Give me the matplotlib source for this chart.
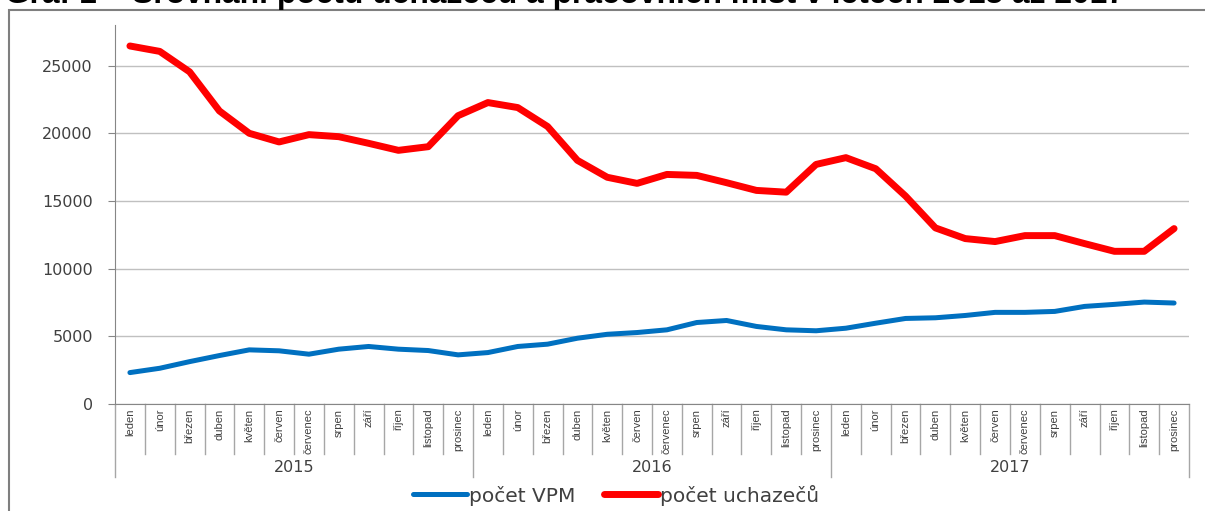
import matplotlib.pyplot as plt
from matplotlib.patches import Rectangle

months = ['leden', 'únor', 'březen', 'duben', 'květen', 'červen', 'červenec',
          'srpen', 'září', 'říjen', 'listopad', 'prosinec']
years = ['2015', '2016', '2017']

vpm = [2320, 2640, 3130, 3580, 4000, 3930, 3680, 4050, 4250, 4050, 3950, 3630,
       3800, 4250, 4420, 4860, 5150, 5280, 5480, 6020, 6170, 5730, 5480, 5410,
       5600, 5970, 6320, 6370, 6540, 6770, 6770, 6840, 7210, 7360, 7530, 7460]
uchazeci = [26450, 26050, 24540, 21650, 20000, 19360, 19900, 19750, 19260, 18740, 19010, 21300,
            22270, 21900, 20500, 18000, 16750, 16300, 16960, 16890, 16350, 15780, 15650, 17700,
            18200, 17380, 15360, 13010, 12220, 12000, 12440, 12440, 11850, 11280, 11280, 12960]

labels = months * len(years)
x = list(range(len(labels)))

fig = plt.figure(figsize=(12.05, 5.11), dpi=100)
ax = fig.add_axes([115 / 1205, 1 - 404 / 511, (1189 - 115) / 1205, (404 - 25) / 511])

# outer frame of the chart (cropped at right and bottom)
fig.patches.append(Rectangle((9 / 1205, -0.1), 1.2, 1.1 - 10 / 511, transform=fig.transFigure,
                             fill=False, edgecolor='#7f7f7f', linewidth=1.5))

# title is cut off at the top edge, as in the source
fig.text(5 / 1205, 1 - 3 / 511, 'Graf 1 – Srovnání počtu uchazečů a pracovních míst v letech 2015 až 2017',
         fontsize=22.9, fontweight='bold', family='Liberation Sans', va='baseline', ha='left')

ax.plot(x, vpm, color='#0070c0', linewidth=3.6, solid_capstyle='round', label='počet VPM', zorder=3)
ax.plot(x, uchazeci, color='#ff0000', linewidth=5.0, solid_capstyle='round', label='počet uchazečů', zorder=3)

ax.set_xlim(-0.5, len(labels) - 0.5)
ax.set_ylim(0, 28000)
ax.set_yticks(range(0, 28000, 5000))
ax.yaxis.grid(True, color='#c0c0c0', linewidth=1)
ax.set_axisbelow(True)
ax.tick_params(axis='y', length=5, color='#868686', labelsize=11.5, labelcolor='#404040', pad=11)
ax.set_xticks([])
for s in ['top', 'right']:
    ax.spines[s].set_visible(False)
ax.spines['left'].set_color('#868686')
ax.spines['bottom'].set_color('#868686')

# category separators, month labels, year labels
xt = ax.get_xaxis_transform()
for i in range(len(labels) + 1):
    bottom = -0.193 if i % 12 == 0 else -0.132
    ax.plot([i - 0.5, i - 0.5], [0, bottom], transform=xt, color='#a6a6a6', linewidth=1, clip_on=False)
for i, lab in enumerate(labels):
    ax.text(i, -0.012, lab, transform=xt, rotation=90, ha='center', va='top',
            fontsize=8, family='Liberation Sans', color='#404040')
for k, yr in enumerate(years):
    ax.text(k * 12 + 5.5, -0.168, yr, transform=xt, ha='center', va='center',
            fontsize=11.5, color='#404040')

fig.legend(loc='center', bbox_to_anchor=(616 / 1205, 1 - 495 / 511), ncol=2, frameon=False,
           fontsize=14.5, handlelength=2.7, handletextpad=0.1, columnspacing=1.4,
           labelcolor='#404040')

fig.savefig('out.png', dpi=100)
